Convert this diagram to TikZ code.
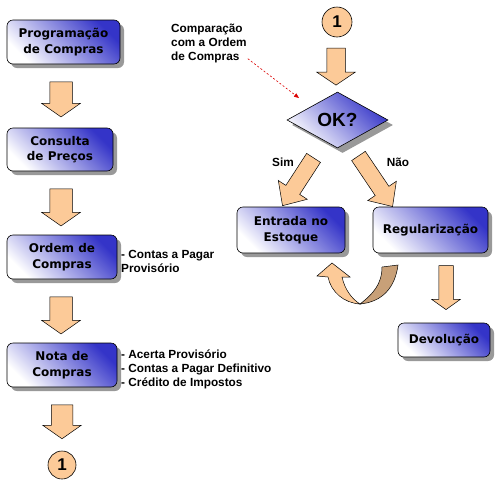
\documentclass[tikz,border=0pt]{standalone}
\usepackage{fontspec}
\setmainfont{Liberation Sans}
\newfontfamily\boxfont{DejaVu Sans}
\usetikzlibrary{shapes.geometric,shapes.arrows,shadows,calc,arrows.meta}
\definecolor{peach}{RGB}{252,202,152}
\definecolor{ribbondark}{RGB}{200,160,120}
\definecolor{boxblue}{RGB}{52,52,200}
\definecolor{redline}{RGB}{220,0,0}
\tikzset{
  procbox/.style={draw=black, line width=0.6pt, rounded corners=6pt,
    top color=boxblue, bottom color=white, shading angle=-45,
    drop shadow={shadow xshift=4pt, shadow yshift=-4pt, fill=black!40, opacity=1},
    font=\boxfont\bfseries\fontsize{12}{15.5}\selectfont, align=center, inner sep=0pt},
  decision/.style={diamond, draw=black, line width=0.6pt,
    top color=boxblue, bottom color=white, shading angle=-45,
    drop shadow={shadow xshift=5pt, shadow yshift=-5pt, fill=black!40, opacity=1},
    minimum width=101pt, minimum height=56pt, inner sep=0pt,
    font=\bfseries\fontsize{19}{19}\selectfont},
  blockarr/.style={single arrow, draw=black, line width=0.5pt, fill=peach, inner xsep=0pt},
  connector/.style={circle, draw=black, line width=0.6pt, fill=peach, minimum size=#1, inner sep=0pt,
    font=\bfseries\fontsize{17}{17}\selectfont},
  sidetext/.style={font=\bfseries\fontsize{11.8}{14}\selectfont, align=left, inner sep=0pt},
  ribbon/.style={draw=black, line width=0.5pt},
}
\begin{document}
\begin{tikzpicture}[x=1pt,y=-1pt]
\useasboundingbox (0,0) rectangle (501,480);
\fill[white] (0,0) rectangle (501,480);

% left column boxes
\node[procbox, minimum width=113pt, minimum height=44pt] (b1) at (63.5,42) {Programação\\de Compras};
\node[procbox, minimum width=106pt, minimum height=43pt] (b2) at (60,149.5) {Consulta\\de Preços};
\node[procbox, minimum width=110pt, minimum height=44pt] (b3) at (62,257) {Ordem de\\Compras};
\node[procbox, minimum width=110pt, minimum height=44pt] (b4) at (62,365) {Nota de\\Compras};

% left column arrows
\node[blockarr, inner ysep=11pt, minimum height=35pt, minimum width=38pt, single arrow head extend=8pt, single arrow tip angle=110, rotate=-90] (a1) at (61,95.5) {};
\node[blockarr, inner ysep=11pt, minimum height=37pt, minimum width=38pt, single arrow head extend=8pt, single arrow tip angle=110, rotate=-90] (a2) at (61,203.5) {};
\node[blockarr, inner ysep=11pt, minimum height=37pt, minimum width=38pt, single arrow head extend=8pt, single arrow tip angle=110, rotate=-90] (a3) at (61,311.5) {};
\node[blockarr, inner ysep=10.5pt, minimum height=34pt, minimum width=38pt, single arrow head extend=8.5pt, single arrow tip angle=110, rotate=-90] (a4) at (62,418) {};
\node[connector=28pt] (c1) at (62,465) {1};

% side texts
\node[sidetext, anchor=west] (t3) at (121,261) {- Contas a Pagar\\Provisório};
\node[sidetext, anchor=west] (t4) at (121,369) {- Acerta Provisório\\- Contas a Pagar Definitivo\\- Crédito de Impostos};

% right part
\node[connector=30pt] (c2) at (337,22) {1};
\node[blockarr, inner ysep=9pt, minimum height=37pt, minimum width=38pt, single arrow head extend=10pt, single arrow tip angle=112, rotate=-90] (a5) at (336,63.5) {};
\node[decision] (ok) at (337.5,120) {OK?};

\node[sidetext, anchor=west] (cmp) at (171,43) {Comparação\\com a Ordem\\de Compras};
\coordinate (ra) at ($(cmp.south east)+(1,-4)$);
\coordinate (rb) at (299,98);
\draw[redline, line width=0.6pt, dash pattern=on 2pt off 2pt, -{Triangle[length=5pt,width=4pt]}] (ra) -- (rb);

\node[blockarr, inner ysep=8pt, minimum height=57pt, minimum width=34pt, single arrow head extend=9pt, single arrow tip angle=85, rotate=-123] (asim) at (300.5,178) {};
\node[blockarr, inner ysep=8pt, minimum height=61pt, minimum width=34pt, single arrow head extend=9pt, single arrow tip angle=85, rotate=-56] (anao) at (373,177.5) {};
\node[sidetext] (sim) at (283,162) {Sim};
\node[sidetext] (nao) at (398,162) {Não};

\node[procbox, minimum width=108pt, minimum height=46pt] (ent) at (291,230) {Entrada no\\Estoque};
\node[procbox, minimum width=115pt, minimum height=46pt] (reg) at (430.5,230) {Regularização};
\node[procbox, minimum width=92pt, minimum height=34pt] (dev) at (444,340) {Devolução};

\node[blockarr, inner ysep=7pt, minimum height=44pt, minimum width=28pt, single arrow head extend=7pt, single arrow tip angle=109, rotate=-90] (a6) at (446,285) {};

% U-turn ribbon arrow
\filldraw[ribbon, fill=peach] (360,304) .. controls (344,303) and (331,292) .. (328,277)
  -- (317,276) -- (332,263) -- (350,277) -- (342,277)
  .. controls (345,290) and (352,299) .. (360,304) -- cycle;
\filldraw[ribbon, fill=ribbondark] (382,267) -- (398,265)
  .. controls (395,288) and (382,302) .. (360,304)
  .. controls (373,294) and (382,284) .. (382,267) -- cycle;
\end{tikzpicture}
\end{document}
